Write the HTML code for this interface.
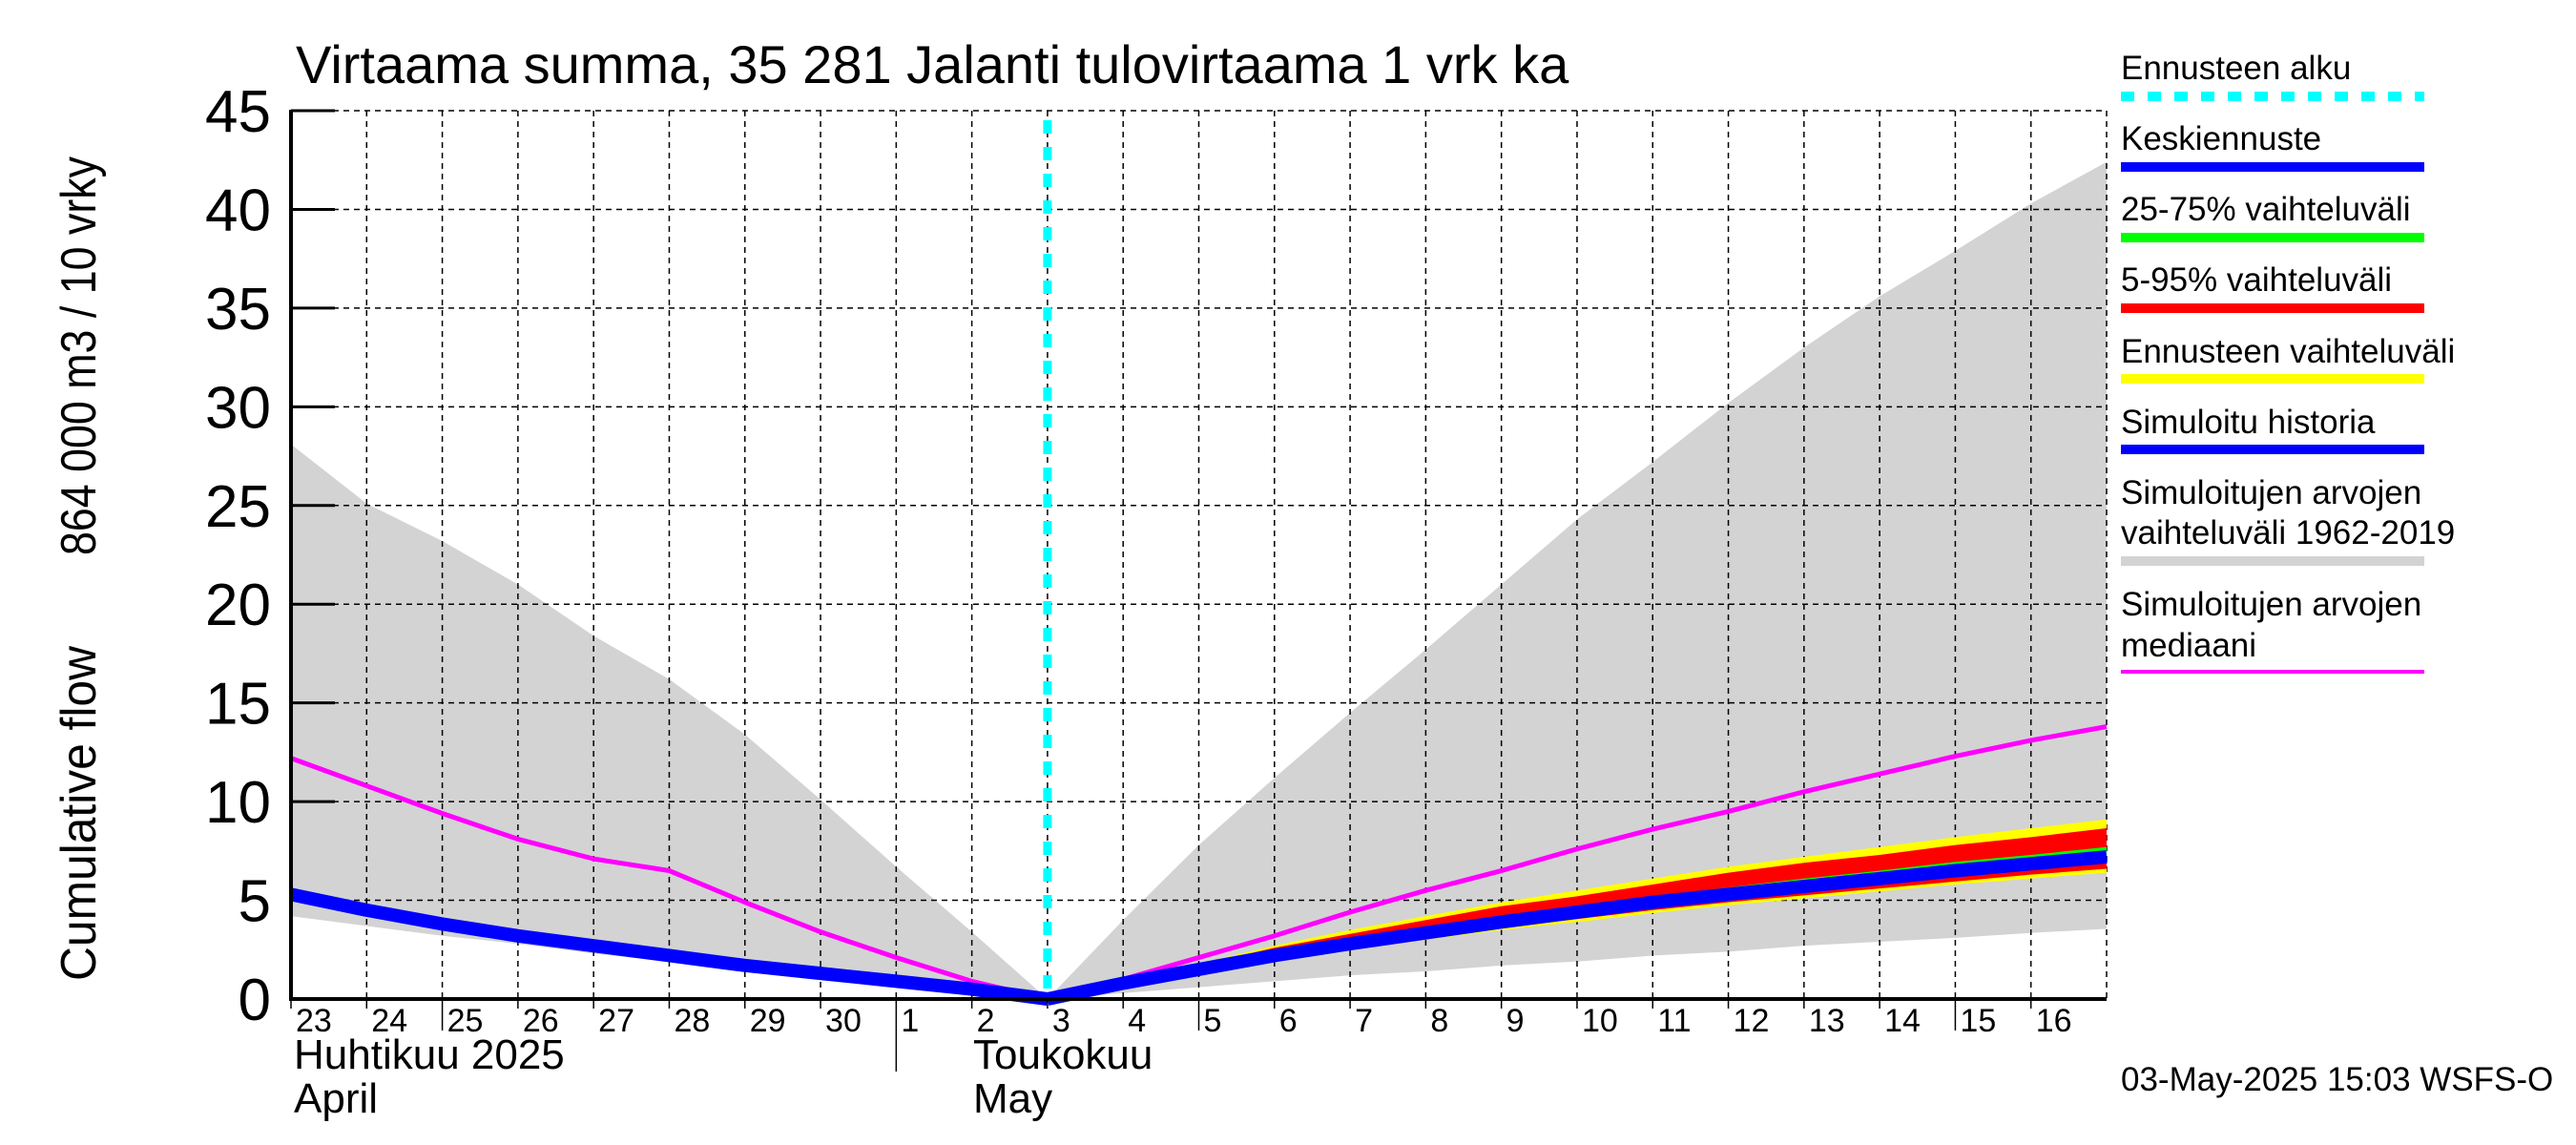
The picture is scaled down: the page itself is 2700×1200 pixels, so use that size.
<!DOCTYPE html>
<html><head><meta charset="utf-8"><style>
html,body{margin:0;padding:0;background:#fff;}
svg{display:block;font-family:"Liberation Sans",sans-serif;}
</style></head><body>
<svg id="chart" width="2700" height="1200" viewBox="0 0 2700 1200" xmlns="http://www.w3.org/2000/svg">
<rect width="2700" height="1200" fill="#fff"/>
<g id="plot"></g>
<text x="310" y="87" font-size="56">Virtaama summa, 35 281 Jalanti tulovirtaama 1 vrk ka</text>
<g>
<text transform="translate(100,1028) rotate(-90)" font-size="52" textLength="351" lengthAdjust="spacingAndGlyphs">Cumulative flow</text>
<text transform="translate(100,582) rotate(-90)" font-size="52" textLength="418" lengthAdjust="spacingAndGlyphs">864 000 m3 / 10 vrky</text>
</g>
<text x="308" y="1120" font-size="44">Huhtikuu  2025</text>
<text x="308" y="1166" font-size="44">April</text>
<text x="1020" y="1120" font-size="44">Toukokuu</text>
<text x="1020" y="1166" font-size="44">May</text>
<text x="2223" y="1143" font-size="35">03-May-2025 15:03 WSFS-O</text>
<g id="legend" font-size="35">
<g><text x="2223" y="83">Ennusteen alku</text><line x1="2223" y1="101" x2="2541" y2="101" stroke="#00ffff" stroke-width="10" stroke-dasharray="14 14"/></g>
<g><text x="2223" y="157">Keskiennuste</text><line x1="2223" y1="175" x2="2541" y2="175" stroke="#0000ff" stroke-width="10"/></g>
<g><text x="2223" y="231">25-75% vaihteluväli</text><line x1="2223" y1="249" x2="2541" y2="249" stroke="#00ff00" stroke-width="10"/></g>
<g><text x="2223" y="305">5-95% vaihteluväli</text><line x1="2223" y1="323" x2="2541" y2="323" stroke="#ff0000" stroke-width="10"/></g>
<g><text x="2223" y="380">Ennusteen vaihteluväli</text><line x1="2223" y1="397" x2="2541" y2="397" stroke="#ffff00" stroke-width="10"/></g>
<g><text x="2223" y="454">Simuloitu historia</text><line x1="2223" y1="471" x2="2541" y2="471" stroke="#0000ff" stroke-width="10"/></g>
<g><text x="2223" y="528">Simuloitujen arvojen</text><text x="2223" y="570">vaihteluväli 1962-2019</text><line x1="2223" y1="588" x2="2541" y2="588" stroke="#d3d3d3" stroke-width="10"/></g>
<g><text x="2223" y="645">Simuloitujen arvojen</text><text x="2223" y="688">mediaani</text><line x1="2223" y1="704" x2="2541" y2="704" stroke="#ff00ff" stroke-width="4"/></g>
</g>
</svg>
<script>
// day index 0 = 23 April; 24 = 17 May
const dayLabels = ["23","24","25","26","27","28","29","30","1","2","3","4","5","6","7","8","9","10","11","12","13","14","15","16"];
const yTicks = [0,5,10,15,20,25,30,35,40,45];
const rangeUpper = [28.1,25.1,23.2,21.0,18.4,16.2,13.4,10.1,6.7,3.4,0,4.0,7.8,11.2,14.5,17.7,21.0,24.3,27.2,30.2,33.0,35.6,37.9,40.3,42.4];
const rangeLower = [4.2,3.7,3.2,2.8,2.3,1.9,1.5,1.1,0.6,0.3,0,0.3,0.6,0.9,1.2,1.4,1.7,1.9,2.2,2.4,2.7,2.9,3.1,3.35,3.55];
const simMedian = [12.2,10.8,9.4,8.1,7.1,6.5,4.9,3.4,2.1,0.9,0,1.0,2.1,3.2,4.4,5.5,6.5,7.6,8.6,9.5,10.5,11.4,12.3,13.1,13.8];
const history = [5.3,4.5,3.8,3.2,2.7,2.2,1.7,1.3,0.9,0.5,0];
const fcDays = [10,11,12,13,14,15,16,17,18,19,20,21,22,23,24];
const fcMean = [0,0.8,1.5,2.2,2.8,3.35,3.9,4.4,4.9,5.3,5.7,6.1,6.5,6.85,7.2];
const yellowHi = [0,0.9,1.8,2.7,3.5,4.2,4.9,5.5,6.1,6.7,7.2,7.7,8.2,8.65,9.1];
const redHi = [0,0.9,1.7,2.6,3.3,4.0,4.7,5.2,5.8,6.4,6.9,7.3,7.8,8.2,8.65];
const greenHi = [0,0.85,1.6,2.35,3.0,3.6,4.15,4.7,5.2,5.65,6.1,6.5,6.95,7.3,7.7];
const greenLo = [0,0.8,1.45,2.15,2.75,3.3,3.8,4.3,4.8,5.2,5.6,6.0,6.35,6.7,7.0];
const redLo = [0,0.75,1.4,2.05,2.6,3.1,3.6,4.05,4.5,4.9,5.25,5.6,5.95,6.3,6.6];
const yellowLo = [0,0.72,1.35,2.0,2.5,3.0,3.5,3.9,4.35,4.75,5.1,5.45,5.8,6.1,6.4];
const forecastStartDay = 10;

const X0=305, X1=2208, Y0=1047, Y1=116, NDAYS=24, YMAX=45;
const xs = d => X0 + d*(X1-X0)/NDAYS;
const ys = v => Y0 - v*(Y0-Y1)/YMAX;
const NS="http://www.w3.org/2000/svg";
const plot=document.getElementById('plot');
function mk(tag, attrs){const e=document.createElementNS(NS,tag);for(const k in attrs)e.setAttribute(k,attrs[k]);plot.appendChild(e);return e;}
function band(days, hi, lo, fill, name){
  let p=days.map((d,i)=>xs(d)+','+ys(hi[i])).concat(days.slice().reverse().map((d,j)=>xs(d)+','+ys(lo[lo.length-1-j])));
  const e=mk('polygon',{points:p.join(' '),fill:fill});
  
  
}
function line(days, vals, stroke, w, name){
  const e=mk('polyline',{points:days.map((d,i)=>xs(d)+','+ys(vals[i])).join(' '),fill:'none',stroke:stroke,'stroke-width':w,'stroke-linejoin':'round'});
  
  
}
const allDays = rangeUpper.map((_,i)=>i);
band(allDays, rangeUpper, rangeLower, '#d3d3d3', 'simulated-range-band');
for(let d=1; d<=NDAYS; d++){
  const g=mk('line',{x1:xs(d),y1:Y1,x2:xs(d),y2:Y0,stroke:'#000','stroke-width':1.5,'stroke-dasharray':'6 5'});
  
  
}
yTicks.forEach(v=>{
  if(v>0){
    const g=mk('line',{x1:X0,y1:ys(v),x2:X1,y2:ys(v),stroke:'#000','stroke-width':1.5,'stroke-dasharray':'6 5'});
    
    
  }
  const t=mk('line',{x1:X0,y1:ys(v),x2:X0+46,y2:ys(v),stroke:'#000','stroke-width':3});
  
  
  const l=mk('text',{x:284,y:ys(v)+22,'text-anchor':'end','font-size':62});
  l.textContent=v;
  
  
});
band(fcDays, yellowHi, yellowLo, '#ffff00', 'forecast-range-band');
band(fcDays, redHi, redLo, '#ff0000', 'band-5-95');
band(fcDays, greenHi, greenLo, '#00ff00', 'band-25-75');
line(allDays, simMedian, '#ff00ff', 5, 'simulated-median-line');
line(history.map((_,i)=>i), history, '#0000ff', 14, 'simulated-history-line');
line(fcDays, fcMean, '#0000ff', 14, 'mean-forecast-line');
let a=mk('line',{x1:X0,y1:Y1-1,x2:X0,y2:Y0+2,stroke:'#000','stroke-width':4});


a=mk('line',{x1:X0,y1:Y0,x2:X1,y2:Y0,stroke:'#000','stroke-width':4});


a=mk('line',{x1:X0,y1:Y1,x2:X0+46,y2:Y1,stroke:'#000','stroke-width':3});


dayLabels.forEach((lab,d)=>{
  const long = (lab==="25"||lab==="5"||lab==="15");
  const month = (lab==="1");
  const tk=mk('line',{x1:xs(d),y1:Y0,x2:xs(d),y2:month?1123:(long?1080:1057),stroke:'#000','stroke-width':1.5});
  
  
  const t=mk('text',{x:xs(d)+5,y:1081,'font-size':34});
  t.textContent=lab;
  
  
});
const fc=mk('line',{x1:xs(forecastStartDay),y1:Y1+10,x2:xs(forecastStartDay),y2:Y0-6,stroke:'#00ffff','stroke-width':9,'stroke-dasharray':'14 14'});


</script>
</body></html>
